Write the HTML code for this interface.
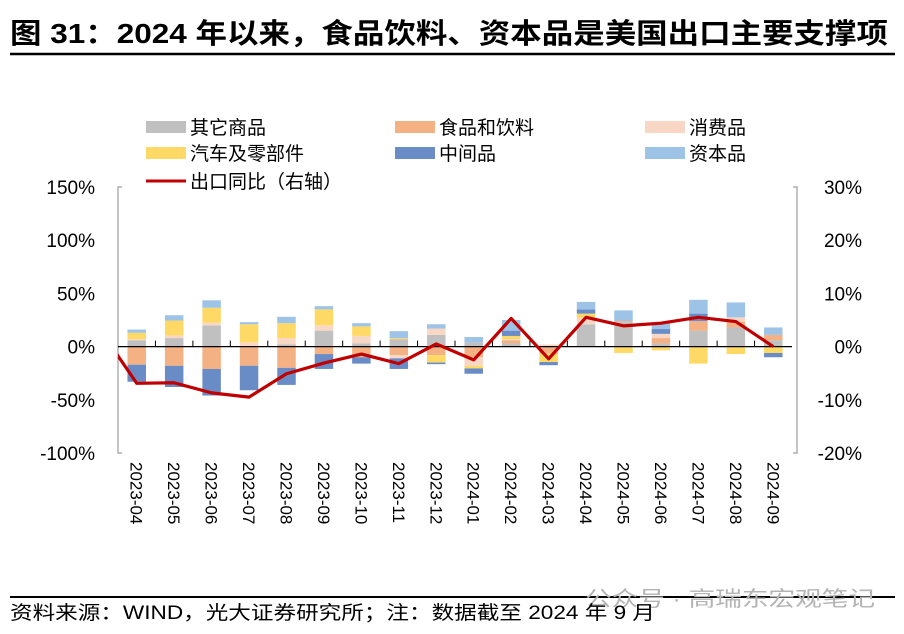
<!DOCTYPE html>
<html><head><meta charset="utf-8"><style>
body{margin:0;background:#fff;width:904px;height:634px;overflow:hidden;font-family:"Liberation Sans","Noto Sans CJK SC",sans-serif}
svg{display:block}
text{font-family:"Liberation Sans","Noto Sans CJK SC",sans-serif}
</style></head><body>
<svg id="chart" width="904" height="634">
<text x="10" y="43" font-size="28" font-weight="bold" fill="#000" textLength="878" lengthAdjust="spacingAndGlyphs">图 31：2024 年以来，食品饮料、资本品是美国出口主要支撑项</text>
<line x1="10" y1="54" x2="895" y2="54" stroke="#000" stroke-width="2.5"/>
<g id="legend"></g>
<g id="axes"></g>
<g id="bars"></g>
<g id="line"></g>
<line x1="10" y1="597" x2="895" y2="597" stroke="#000" stroke-width="2"/>
<text x="585" y="606" font-size="21" fill="#b4b4b4" textLength="290" lengthAdjust="spacingAndGlyphs">公众号 · 高瑞东宏观笔记</text>
<text x="10" y="619" font-size="19" fill="#000" textLength="645" lengthAdjust="spacingAndGlyphs">资料来源：WIND，光大证券研究所；注：数据截至 2024 年 9 月</text>
</svg>
<script>
const categories=["2023-04","2023-05","2023-06","2023-07","2023-08","2023-09","2023-10","2023-11","2023-12","2024-01","2024-02","2024-03","2024-04","2024-05","2024-06","2024-07","2024-08","2024-09"];
const seriesNames=["其它商品","食品和饮料","消费品","汽车及零部件","中间品","资本品"];
const other=[6,8,20,0,2,15,3,7,11,4,3,0,21,23,3,15,18,6];
const food=[-17,-18,-21,-18,-20,-7,-10,-8,-8,-10,3,-6.5,0,1,5,9,5.5,5];
const consumer=[1,2.5,2.5,4,6,5,7,-3,6,-8,1,2,6,0,4,0,4,0];
const auto=[6,14,14,17,14,15,9,1,-7,-2.5,3,-8,4,-6,-3.5,-16,-7,-6];
const intermediate=[-16,-20,-25,-23,-16,-14,-6,-10,-1.5,-5,5,-3,4,0,4.5,7,0,-4];
const capital=[3,5,7,2,6,3,3,6.5,4,5,10,0,7,10,6,13,14,7];
const prevYoY=3.4;
const yoy=[-6.9,-6.8,-8.7,-9.5,-5.1,-3.1,-1.4,-3.2,0.5,-2.5,5.3,-2.3,5.5,3.9,4.4,5.5,4.7,0];
const leftTicks=["150%","100%","50%","0%","-50%","-100%"];
const leftTickVals=[150,100,50,0,-50,-100];
const rightTicks=["30%","20%","10%","0%","-10%","-20%"];
const rightTickVals=[30,20,10,0,-10,-20];

const NS="http://www.w3.org/2000/svg";
const colors=["#c0c0c0","#f4b183","#f8d7c4","#ffd966","#6a8cc6","#9dc3e6"];
const series=[other,food,consumer,auto,intermediate,capital];
const X0=118,X1=792,YT=187,YB=453;
const step=(X1-X0)/categories.length;
const xc=i=>X0+step*(i+0.5);
const yL=v=>YT+(150-v)/250*(YB-YT);
const yR=v=>YT+(30-v)/50*(YB-YT);
function mk(tag,attrs,parent){const e=document.createElementNS(NS,tag);for(const k in attrs)e.setAttribute(k,attrs[k]);parent.appendChild(e);return e;}

const axes=document.getElementById('axes');
let a=mk('path',{d:`M${X0+4} ${YT}H${X0}V${YB}H${X0+4}`,fill:'none',stroke:'#888','stroke-width':1},axes);

a=mk('path',{d:`M${X1+1} ${YT}H${X1+5}V${YB}H${X1+1}`,fill:'none',stroke:'#888','stroke-width':1},axes);

leftTickVals.forEach((v,i)=>{const t=mk('text',{x:95,y:yL(v)+7,'font-size':19,'text-anchor':'end',fill:'#000'},axes);t.textContent=leftTicks[i];
});
rightTickVals.forEach((v,i)=>{const t=mk('text',{x:862,y:yR(v)+7,'font-size':19,'text-anchor':'end',fill:'#000'},axes);t.textContent=rightTicks[i];
});
categories.forEach((c,i)=>{const x=xc(i);const t=mk('text',{x:0,y:0,'font-size':17,fill:'#000',transform:`translate(${x-6},462) rotate(90)`},axes);t.textContent=c;
});

const bars=document.getElementById('bars');
const bw=18.5;
categories.forEach((c,i)=>{let pos=0,neg=0;
 series.forEach((s,k)=>{const v=s[i];if(!v)return;let y0,y1;
  if(v>0){y0=pos;pos+=v;y1=pos;}else{y0=neg;neg+=v;y1=neg;}
  const r=mk('rect',{x:xc(i)-bw/2,y:Math.min(yL(y0),yL(y1)),width:bw,height:Math.abs(yL(y0)-yL(y1)),fill:colors[k]},bars);
  });});
const zl=mk('line',{x1:X0,y1:yL(0),x2:X1,y2:yL(0),stroke:'#000','stroke-width':1.3},bars);

categories.forEach((c,i)=>{if(i===0)return;const t=mk('line',{x1:X0+step*i,y1:yL(0)-6,x2:X0+step*i,y2:yL(0),stroke:'#000','stroke-width':1},bars);
});

const lg=document.getElementById('line');
const cp=mk('clipPath',{id:'clip'},lg);mk('rect',{x:X0,y:0,width:X1-X0,height:634},cp);
let d=`M${xc(-1)} ${yR(prevYoY)}`;yoy.forEach((v,i)=>{d+=`L${xc(i)} ${yR(v)}`;});
const p=mk('path',{d,fill:'none',stroke:'#c00000','stroke-width':3.2,'stroke-linejoin':'round','clip-path':'url(#clip)'},lg);


const leg=document.getElementById('legend');
const lx=[146,395,645];
seriesNames.forEach((n,k)=>{const x=lx[k%3],y=k<3?127:153;
 const r=mk('rect',{x,y:y-6,width:40,height:12,fill:colors[k]},leg);
 
 const t=mk('text',{x:x+44,y:y+7,'font-size':19,fill:'#000'},leg);t.textContent=n;
 });
const ll=mk('line',{x1:146,y1:181,x2:186,y2:181,stroke:'#c00000','stroke-width':3},leg);

const lt=mk('text',{x:190,y:188,'font-size':19,fill:'#000'},leg);lt.textContent="出口同比（右轴）";

</script>
</body></html>
